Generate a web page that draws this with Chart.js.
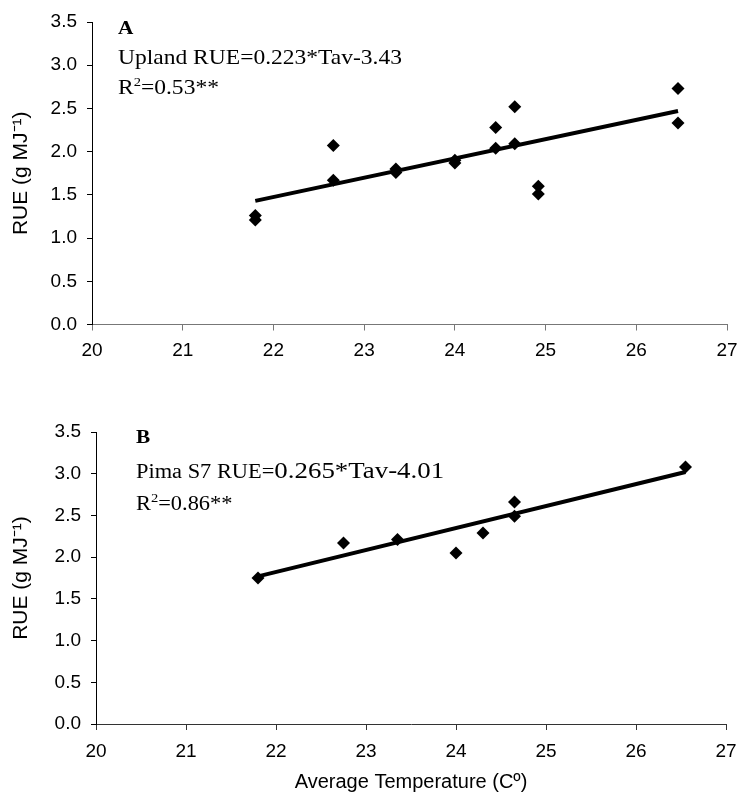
<!DOCTYPE html>
<html>
<head>
<meta charset="utf-8">
<script src="https://cdn.jsdelivr.net/npm/chart.js@4.4.0/dist/chart.umd.min.js"></script>
<style>
  html, body { margin: 0; padding: 0; background: #fff; overflow: hidden; }
  .panel { position: absolute; left: 0; width: 760px; }
  #panelA { top: 0; height: 370px; }
  #panelB { top: 370px; height: 424px; }
</style>
</head>
<body>
<div class="panel" id="panelA"><canvas id="chartA"></canvas></div>
<div class="panel" id="panelB"><canvas id="chartB"></canvas></div>
<script>
// ---- data ----
// Panel A: Upland cotton
const uplandTemp = [21.8, 21.8, 22.66, 22.66, 23.35, 23.35, 24.0, 24.0, 24.45, 24.45, 24.66, 24.66, 24.92, 24.92, 26.46, 26.46];
const uplandRUE  = [1.26, 1.21, 2.07, 1.67, 1.80, 1.76, 1.90, 1.87, 2.28, 2.04, 2.52, 2.09, 1.60, 1.51, 2.73, 2.33];
const uplandTrendTemp = [21.8, 26.46];
const uplandTrendRUE  = [1.43, 2.47];

// Panel B: Pima S7
const pimaTemp = [21.8, 22.75, 23.35, 24.0, 24.3, 24.65, 24.65, 26.55];
const pimaRUE  = [1.75, 2.17, 2.21, 2.05, 2.29, 2.66, 2.49, 3.08];
const pimaTrendTemp = [21.8, 26.55];
const pimaTrendRUE  = [1.77, 3.02];

// axes
const xMin = 20, xMax = 27, xStep = 1;
const yMin = 0, yMax = 3.5, yStep = 0.5;
const yTitle = 'RUE (g MJ\u207B\u00B9)';
const xTitle = 'Average Temperature (C\u00BA)';

const SANS = '"Liberation Sans", Arial, sans-serif';
const SERIF = '"Liberation Serif", "Times New Roman", serif';

const toPoints = (xs, ys) => xs.map((x, i) => ({ x: x, y: ys[i] }));

// draws the equation text in the top-left of a panel
function equationPlugin(id, lines) {
  return {
    id: id,
    afterDraw(chart) {
      const ctx = chart.ctx;
      ctx.save();
      ctx.fillStyle = '#000';
      ctx.textBaseline = 'alphabetic';
      ctx.textAlign = 'left';
      lines.forEach((line) => {
        ctx.save();
        ctx.translate(line.x, line.y);
        ctx.scale(1.12, 1);
        let cx = 0;
        line.parts.forEach((p) => {
          ctx.font = (p.bold ? 'bold ' : '') + p.size + 'px ' + SERIF;
          ctx.fillText(p.text, cx, p.sup ? -p.sup : 0);
          cx += ctx.measureText(p.text).width;
        });
        ctx.restore();
      });
      ctx.restore();
    },
  };
}

function makeOptions(cfg) {
  return {
    responsive: true,
    maintainAspectRatio: false,
    animation: false,
    layout: { padding: { left: 0, right: cfg.padRight, top: cfg.padTop, bottom: 0 } },
    plugins: { legend: { display: false }, tooltip: { enabled: false } },
    scales: {
      x: {
        type: 'linear',
        min: xMin,
        max: xMax,
        afterFit(scale) { scale.height = cfg.xHeight; },
        border: { display: true, color: cfg.xColor, width: 1 },
        grid: { drawOnChartArea: false, drawTicks: true, tickLength: 6, color: cfg.xColor },
        ticks: {
          stepSize: xStep,
          padding: cfg.xPad,
          color: '#000',
          font: { family: SANS, size: 19 },
          maxRotation: 0,
        },
        title: {
          display: cfg.showXTitle,
          text: xTitle,
          color: '#000',
          font: { family: SANS, size: 20 },
          padding: { top: 5, bottom: 0 },
        },
      },
      y: {
        type: 'linear',
        min: yMin,
        max: yMax,
        afterFit(scale) { scale.width = cfg.yWidth; },
        border: { display: true, color: '#000', width: 1 },
        grid: { drawOnChartArea: false, drawTicks: true, tickLength: 5, color: '#000' },
        ticks: {
          stepSize: yStep,
          padding: 10,
          color: '#000',
          font: { family: SANS, size: 19 },
          callback: (v) => Number(v).toFixed(1),
        },
        title: {
          display: true,
          text: yTitle,
          color: '#000',
          font: { family: SANS, size: 21 },
          padding: { top: 9, bottom: 0 },
        },
      },
    },
  };
}

function makeDatasets(xs, ys, tx, ty, radius) {
  return [
    {
      type: 'line',
      data: toPoints(tx, ty),
      borderColor: '#000',
      borderWidth: 4,
      pointRadius: 0,
      fill: false,
      order: 2,
    },
    {
      type: 'scatter',
      data: toPoints(xs, ys),
      backgroundColor: '#000',
      borderColor: '#000',
      borderWidth: 0,
      pointStyle: 'rectRot',
      pointRadius: radius,
      order: 1,
    },
  ];
}

new Chart(document.getElementById('chartA'), {
  type: 'scatter',
  data: { datasets: makeDatasets(uplandTemp, uplandRUE, uplandTrendTemp, uplandTrendRUE, 6.5) },
  options: makeOptions({
    padTop: 22, padRight: 33, xHeight: 45.5, yWidth: 92,
    xColor: '#777', xPad: 9, showXTitle: false,
  }),
  plugins: [equationPlugin('eqA', [
    { x: 118, y: 34, parts: [{ text: 'A', size: 19, bold: true }] },
    { x: 118, y: 64, parts: [{ text: 'Upland RUE=0.223*Tav-3.43', size: 21 }] },
    { x: 118, y: 94, parts: [
      { text: 'R', size: 21 }, { text: '2', size: 13, sup: 8 }, { text: '=0.53**', size: 21 },
    ] },
  ])],
});

new Chart(document.getElementById('chartB'), {
  type: 'scatter',
  data: { datasets: makeDatasets(pimaTemp, pimaRUE, pimaTrendTemp, pimaTrendRUE, 6.5) },
  options: makeOptions({
    padTop: 62, padRight: 34, xHeight: 70, yWidth: 96,
    xColor: '#333', xPad: 10, showXTitle: true,
  }),
  plugins: [equationPlugin('eqB', [
    { x: 136, y: 73, parts: [{ text: 'B', size: 19, bold: true }] },
    { x: 136, y: 108, parts: [
      { text: 'Pima S7 RUE=', size: 20 }, { text: '0.265*Tav-4.01', size: 24 },
    ] },
    { x: 136, y: 140, parts: [
      { text: 'R', size: 20 }, { text: '2', size: 13, sup: 8 }, { text: '=0.86**', size: 20 },
    ] },
  ])],
});
</script>
</body>
</html>
